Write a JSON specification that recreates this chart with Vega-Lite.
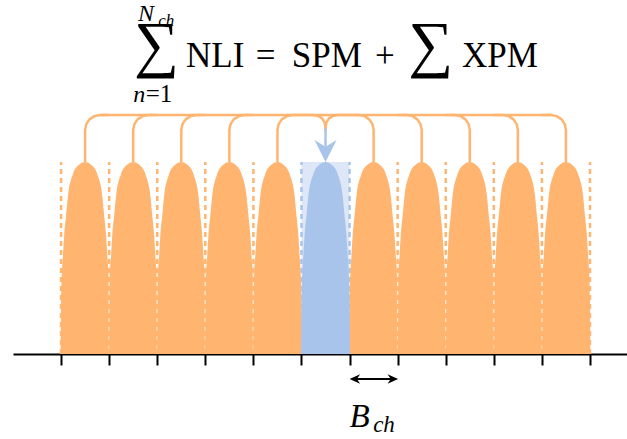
{
  "$schema": "https://vega.github.io/schema/vega-lite/v6.json",
  "width": 614,
  "height": 354,
  "autosize": "none",
  "padding": {"left": 13, "top": 0, "right": 0, "bottom": 85},
  "background": "white",
  "config": {"view": {"stroke": null}},
  "datasets": {
    "band": [{"x": 5, "x2": 6}],
    "edges": [
      {"x": 0, "kind": "wdm"}, {"x": 1, "kind": "wdm"}, {"x": 2, "kind": "wdm"}, {"x": 3, "kind": "wdm"}, {"x": 4, "kind": "wdm"},
      {"x": 5, "kind": "cut"}, {"x": 6, "kind": "cut"},
      {"x": 7, "kind": "wdm"}, {"x": 8, "kind": "wdm"}, {"x": 9, "kind": "wdm"}, {"x": 10, "kind": "wdm"}, {"x": 11, "kind": "wdm"}
    ],
    "lobes": [
      {"ch":0,"x":-0.01,"y":0},{"ch":0,"x":0,"y":0.28},{"ch":0,"x":0.015,"y":0.411},{"ch":0,"x":0.04,"y":0.516},{"ch":0,"x":0.065,"y":0.62},{"ch":0,"x":0.105,"y":0.724},{"ch":0,"x":0.145,"y":0.828},{"ch":0,"x":0.24,"y":0.932},{"ch":0,"x":0.365,"y":0.984},{"ch":0,"x":0.5,"y":1},{"ch":0,"x":0.635,"y":0.984},{"ch":0,"x":0.76,"y":0.932},{"ch":0,"x":0.855,"y":0.828},{"ch":0,"x":0.895,"y":0.724},{"ch":0,"x":0.935,"y":0.62},{"ch":0,"x":0.96,"y":0.516},{"ch":0,"x":0.985,"y":0.411},{"ch":0,"x":1,"y":0.28},{"ch":0,"x":1.01,"y":0},
      {"ch":1,"x":0.99,"y":0},{"ch":1,"x":1,"y":0.28},{"ch":1,"x":1.015,"y":0.411},{"ch":1,"x":1.04,"y":0.516},{"ch":1,"x":1.065,"y":0.62},{"ch":1,"x":1.105,"y":0.724},{"ch":1,"x":1.145,"y":0.828},{"ch":1,"x":1.24,"y":0.932},{"ch":1,"x":1.365,"y":0.984},{"ch":1,"x":1.5,"y":1},{"ch":1,"x":1.635,"y":0.984},{"ch":1,"x":1.76,"y":0.932},{"ch":1,"x":1.855,"y":0.828},{"ch":1,"x":1.895,"y":0.724},{"ch":1,"x":1.935,"y":0.62},{"ch":1,"x":1.96,"y":0.516},{"ch":1,"x":1.985,"y":0.411},{"ch":1,"x":2,"y":0.28},{"ch":1,"x":2.01,"y":0},
      {"ch":2,"x":1.99,"y":0},{"ch":2,"x":2,"y":0.28},{"ch":2,"x":2.015,"y":0.411},{"ch":2,"x":2.04,"y":0.516},{"ch":2,"x":2.065,"y":0.62},{"ch":2,"x":2.105,"y":0.724},{"ch":2,"x":2.145,"y":0.828},{"ch":2,"x":2.24,"y":0.932},{"ch":2,"x":2.365,"y":0.984},{"ch":2,"x":2.5,"y":1},{"ch":2,"x":2.635,"y":0.984},{"ch":2,"x":2.76,"y":0.932},{"ch":2,"x":2.855,"y":0.828},{"ch":2,"x":2.895,"y":0.724},{"ch":2,"x":2.935,"y":0.62},{"ch":2,"x":2.96,"y":0.516},{"ch":2,"x":2.985,"y":0.411},{"ch":2,"x":3,"y":0.28},{"ch":2,"x":3.01,"y":0},
      {"ch":3,"x":2.99,"y":0},{"ch":3,"x":3,"y":0.28},{"ch":3,"x":3.015,"y":0.411},{"ch":3,"x":3.04,"y":0.516},{"ch":3,"x":3.065,"y":0.62},{"ch":3,"x":3.105,"y":0.724},{"ch":3,"x":3.145,"y":0.828},{"ch":3,"x":3.24,"y":0.932},{"ch":3,"x":3.365,"y":0.984},{"ch":3,"x":3.5,"y":1},{"ch":3,"x":3.635,"y":0.984},{"ch":3,"x":3.76,"y":0.932},{"ch":3,"x":3.855,"y":0.828},{"ch":3,"x":3.895,"y":0.724},{"ch":3,"x":3.935,"y":0.62},{"ch":3,"x":3.96,"y":0.516},{"ch":3,"x":3.985,"y":0.411},{"ch":3,"x":4,"y":0.28},{"ch":3,"x":4.01,"y":0},
      {"ch":4,"x":3.99,"y":0},{"ch":4,"x":4,"y":0.28},{"ch":4,"x":4.015,"y":0.411},{"ch":4,"x":4.04,"y":0.516},{"ch":4,"x":4.065,"y":0.62},{"ch":4,"x":4.105,"y":0.724},{"ch":4,"x":4.145,"y":0.828},{"ch":4,"x":4.24,"y":0.932},{"ch":4,"x":4.365,"y":0.984},{"ch":4,"x":4.5,"y":1},{"ch":4,"x":4.635,"y":0.984},{"ch":4,"x":4.76,"y":0.932},{"ch":4,"x":4.855,"y":0.828},{"ch":4,"x":4.895,"y":0.724},{"ch":4,"x":4.935,"y":0.62},{"ch":4,"x":4.96,"y":0.516},{"ch":4,"x":4.985,"y":0.411},{"ch":4,"x":5,"y":0.28},{"ch":4,"x":5.01,"y":0},
      {"ch":5,"x":4.99,"y":0},{"ch":5,"x":5,"y":0.28},{"ch":5,"x":5.015,"y":0.411},{"ch":5,"x":5.04,"y":0.516},{"ch":5,"x":5.065,"y":0.62},{"ch":5,"x":5.105,"y":0.724},{"ch":5,"x":5.145,"y":0.828},{"ch":5,"x":5.24,"y":0.932},{"ch":5,"x":5.365,"y":0.984},{"ch":5,"x":5.5,"y":1},{"ch":5,"x":5.635,"y":0.984},{"ch":5,"x":5.76,"y":0.932},{"ch":5,"x":5.855,"y":0.828},{"ch":5,"x":5.895,"y":0.724},{"ch":5,"x":5.935,"y":0.62},{"ch":5,"x":5.96,"y":0.516},{"ch":5,"x":5.985,"y":0.411},{"ch":5,"x":6,"y":0.28},{"ch":5,"x":6.01,"y":0},
      {"ch":6,"x":5.99,"y":0},{"ch":6,"x":6,"y":0.28},{"ch":6,"x":6.015,"y":0.411},{"ch":6,"x":6.04,"y":0.516},{"ch":6,"x":6.065,"y":0.62},{"ch":6,"x":6.105,"y":0.724},{"ch":6,"x":6.145,"y":0.828},{"ch":6,"x":6.24,"y":0.932},{"ch":6,"x":6.365,"y":0.984},{"ch":6,"x":6.5,"y":1},{"ch":6,"x":6.635,"y":0.984},{"ch":6,"x":6.76,"y":0.932},{"ch":6,"x":6.855,"y":0.828},{"ch":6,"x":6.895,"y":0.724},{"ch":6,"x":6.935,"y":0.62},{"ch":6,"x":6.96,"y":0.516},{"ch":6,"x":6.985,"y":0.411},{"ch":6,"x":7,"y":0.28},{"ch":6,"x":7.01,"y":0},
      {"ch":7,"x":6.99,"y":0},{"ch":7,"x":7,"y":0.28},{"ch":7,"x":7.015,"y":0.411},{"ch":7,"x":7.04,"y":0.516},{"ch":7,"x":7.065,"y":0.62},{"ch":7,"x":7.105,"y":0.724},{"ch":7,"x":7.145,"y":0.828},{"ch":7,"x":7.24,"y":0.932},{"ch":7,"x":7.365,"y":0.984},{"ch":7,"x":7.5,"y":1},{"ch":7,"x":7.635,"y":0.984},{"ch":7,"x":7.76,"y":0.932},{"ch":7,"x":7.855,"y":0.828},{"ch":7,"x":7.895,"y":0.724},{"ch":7,"x":7.935,"y":0.62},{"ch":7,"x":7.96,"y":0.516},{"ch":7,"x":7.985,"y":0.411},{"ch":7,"x":8,"y":0.28},{"ch":7,"x":8.01,"y":0},
      {"ch":8,"x":7.99,"y":0},{"ch":8,"x":8,"y":0.28},{"ch":8,"x":8.015,"y":0.411},{"ch":8,"x":8.04,"y":0.516},{"ch":8,"x":8.065,"y":0.62},{"ch":8,"x":8.105,"y":0.724},{"ch":8,"x":8.145,"y":0.828},{"ch":8,"x":8.24,"y":0.932},{"ch":8,"x":8.365,"y":0.984},{"ch":8,"x":8.5,"y":1},{"ch":8,"x":8.635,"y":0.984},{"ch":8,"x":8.76,"y":0.932},{"ch":8,"x":8.855,"y":0.828},{"ch":8,"x":8.895,"y":0.724},{"ch":8,"x":8.935,"y":0.62},{"ch":8,"x":8.96,"y":0.516},{"ch":8,"x":8.985,"y":0.411},{"ch":8,"x":9,"y":0.28},{"ch":8,"x":9.01,"y":0},
      {"ch":9,"x":8.99,"y":0},{"ch":9,"x":9,"y":0.28},{"ch":9,"x":9.015,"y":0.411},{"ch":9,"x":9.04,"y":0.516},{"ch":9,"x":9.065,"y":0.62},{"ch":9,"x":9.105,"y":0.724},{"ch":9,"x":9.145,"y":0.828},{"ch":9,"x":9.24,"y":0.932},{"ch":9,"x":9.365,"y":0.984},{"ch":9,"x":9.5,"y":1},{"ch":9,"x":9.635,"y":0.984},{"ch":9,"x":9.76,"y":0.932},{"ch":9,"x":9.855,"y":0.828},{"ch":9,"x":9.895,"y":0.724},{"ch":9,"x":9.935,"y":0.62},{"ch":9,"x":9.96,"y":0.516},{"ch":9,"x":9.985,"y":0.411},{"ch":9,"x":10,"y":0.28},{"ch":9,"x":10.01,"y":0},
      {"ch":10,"x":9.99,"y":0},{"ch":10,"x":10,"y":0.28},{"ch":10,"x":10.015,"y":0.411},{"ch":10,"x":10.04,"y":0.516},{"ch":10,"x":10.065,"y":0.62},{"ch":10,"x":10.105,"y":0.724},{"ch":10,"x":10.145,"y":0.828},{"ch":10,"x":10.24,"y":0.932},{"ch":10,"x":10.365,"y":0.984},{"ch":10,"x":10.5,"y":1},{"ch":10,"x":10.635,"y":0.984},{"ch":10,"x":10.76,"y":0.932},{"ch":10,"x":10.855,"y":0.828},{"ch":10,"x":10.895,"y":0.724},{"ch":10,"x":10.935,"y":0.62},{"ch":10,"x":10.96,"y":0.516},{"ch":10,"x":10.985,"y":0.411},{"ch":10,"x":11,"y":0.28},{"ch":10,"x":11.01,"y":0}
    ],
    "links": [
      {"p":"a","i":0,"x":0.5,"y":1},{"p":"a","i":1,"x":0.5,"y":1.167},{"p":"a","i":2,"x":0.524,"y":1.197},{"p":"a","i":3,"x":0.591,"y":1.222},{"p":"a","i":4,"x":0.693,"y":1.239},{"p":"a","i":5,"x":0.812,"y":1.245},{"p":"a","i":6,"x":1.0,"y":1.245},
      {"p":"b","i":0,"x":1.5,"y":1},{"p":"b","i":1,"x":1.5,"y":1.167},{"p":"b","i":2,"x":1.524,"y":1.197},{"p":"b","i":3,"x":1.591,"y":1.222},{"p":"b","i":4,"x":1.693,"y":1.239},{"p":"b","i":5,"x":1.812,"y":1.245},{"p":"b","i":6,"x":2.0,"y":1.245},
      {"p":"c","i":0,"x":2.5,"y":1},{"p":"c","i":1,"x":2.5,"y":1.167},{"p":"c","i":2,"x":2.524,"y":1.197},{"p":"c","i":3,"x":2.591,"y":1.222},{"p":"c","i":4,"x":2.693,"y":1.239},{"p":"c","i":5,"x":2.812,"y":1.245},{"p":"c","i":6,"x":3.0,"y":1.245},
      {"p":"d","i":0,"x":3.5,"y":1},{"p":"d","i":1,"x":3.5,"y":1.167},{"p":"d","i":2,"x":3.524,"y":1.197},{"p":"d","i":3,"x":3.591,"y":1.222},{"p":"d","i":4,"x":3.693,"y":1.239},{"p":"d","i":5,"x":3.812,"y":1.245},{"p":"d","i":6,"x":4.0,"y":1.245},
      {"p":"e","i":0,"x":4.5,"y":1},{"p":"e","i":1,"x":4.5,"y":1.167},{"p":"e","i":2,"x":4.524,"y":1.197},{"p":"e","i":3,"x":4.591,"y":1.222},{"p":"e","i":4,"x":4.693,"y":1.239},{"p":"e","i":5,"x":4.812,"y":1.245},{"p":"e","i":6,"x":5.0,"y":1.245},
      {"p":"f","i":0,"x":6.5,"y":1},{"p":"f","i":1,"x":6.5,"y":1.167},{"p":"f","i":2,"x":6.476,"y":1.197},{"p":"f","i":3,"x":6.409,"y":1.222},{"p":"f","i":4,"x":6.307,"y":1.239},{"p":"f","i":5,"x":6.188,"y":1.245},{"p":"f","i":6,"x":6.0,"y":1.245},
      {"p":"g","i":0,"x":7.5,"y":1},{"p":"g","i":1,"x":7.5,"y":1.167},{"p":"g","i":2,"x":7.476,"y":1.197},{"p":"g","i":3,"x":7.409,"y":1.222},{"p":"g","i":4,"x":7.307,"y":1.239},{"p":"g","i":5,"x":7.188,"y":1.245},{"p":"g","i":6,"x":7.0,"y":1.245},
      {"p":"h","i":0,"x":8.5,"y":1},{"p":"h","i":1,"x":8.5,"y":1.167},{"p":"h","i":2,"x":8.476,"y":1.197},{"p":"h","i":3,"x":8.409,"y":1.222},{"p":"h","i":4,"x":8.307,"y":1.239},{"p":"h","i":5,"x":8.188,"y":1.245},{"p":"h","i":6,"x":8.0,"y":1.245},
      {"p":"j","i":0,"x":9.5,"y":1},{"p":"j","i":1,"x":9.5,"y":1.167},{"p":"j","i":2,"x":9.476,"y":1.197},{"p":"j","i":3,"x":9.409,"y":1.222},{"p":"j","i":4,"x":9.307,"y":1.239},{"p":"j","i":5,"x":9.188,"y":1.245},{"p":"j","i":6,"x":9.0,"y":1.245},
      {"p":"k","i":0,"x":10.5,"y":1},{"p":"k","i":1,"x":10.5,"y":1.167},{"p":"k","i":2,"x":10.476,"y":1.197},{"p":"k","i":3,"x":10.409,"y":1.222},{"p":"k","i":4,"x":10.307,"y":1.239},{"p":"k","i":5,"x":10.188,"y":1.245},{"p":"k","i":6,"x":10.0,"y":1.245},
      {"p":"l","i":0,"x":5.0,"y":1.245},{"p":"l","i":1,"x":5.25,"y":1.245},{"p":"l","i":2,"x":5.346,"y":1.240},{"p":"l","i":3,"x":5.427,"y":1.227},{"p":"l","i":4,"x":5.481,"y":1.206},{"p":"l","i":5,"x":5.5,"y":1.183},{"p":"l","i":6,"x":5.5,"y":1.165},
      {"p":"r","i":0,"x":6.0,"y":1.245},{"p":"r","i":1,"x":5.75,"y":1.245},{"p":"r","i":2,"x":5.654,"y":1.240},{"p":"r","i":3,"x":5.573,"y":1.227},{"p":"r","i":4,"x":5.519,"y":1.206},{"p":"r","i":5,"x":5.5,"y":1.183},{"p":"r","i":6,"x":5.5,"y":1.165}
    ],
    "bus": [{"x": 0.812, "x2": 10.188, "y": 1.245}],
    "shaft": [{"x": 5.5, "y": 1.175, "y2": 1.08}],
    "tip": [{"x": 5.5, "y": 1.057}],
    "span": [{"x": 6.15, "x2": 6.86, "y": -0.13}],
    "headL": [{"x": 6.11, "y": -0.13}],
    "headR": [{"x": 6.9, "y": -0.13}],
    "sigma": [{"t": "∑", "x": 1.985, "y": 1.505}, {"t": "∑", "x": 7.69, "y": 1.505}],
    "eqMain": [
      {"t": "NLI", "x": 2.6, "y": 1.495},
      {"t": "=", "x": 4.05, "y": 1.495},
      {"t": "SPM", "x": 4.8, "y": 1.495},
      {"t": "+", "x": 6.53, "y": 1.495},
      {"t": "XPM", "x": 8.34, "y": 1.495}
    ],
    "it22": [
      {"t": "N", "x": 1.6, "y": 1.735},
      {"t": "n", "x": 1.5, "y": 1.31}
    ],
    "itSubB": [{"t": "ch", "x": 6.49, "y": -0.406}],
    "it15": [{"t": "ch", "x": 2.02, "y": 1.71}],
    "rm22": [{"t": "=1", "x": 1.76, "y": 1.31}],
    "it32": [{"t": "B", "x": 6.0, "y": -0.38}]
  },
  "layer": [
    {
      "data": {"name": "band"},
      "mark": {"type": "rect", "color": "#dde7f7"},
      "encoding": {
        "x": {"field": "x", "type": "quantitative", "scale": {"domain": [-1, 11.77], "nice": false, "zero": false},
              "axis": {"values": [0,1,2,3,4,5,6,7,8,9,10,11], "labels": false, "grid": false, "title": null,
                       "domainColor": "black", "domainWidth": 2, "tickColor": "black", "tickWidth": 2, "tickSize": 11}},
        "x2": {"field": "x2"},
        "y": {"datum": 0, "type": "quantitative", "scale": {"domain": [0, 1.84375], "nice": false, "zero": false}, "axis": null},
        "y2": {"datum": 1}
      }
    },
    {
      "data": {"name": "edges"},
      "mark": {"type": "rule", "strokeDash": [5, 4], "strokeWidth": 2.5},
      "encoding": {
        "x": {"field": "x", "type": "quantitative"},
        "y": {"datum": 0, "type": "quantitative", "axis": null},
        "y2": {"datum": 1},
        "color": {"field": "kind", "type": "nominal", "scale": {"domain": ["wdm", "cut"], "range": ["#ffb570", "#a9c4ea"]}, "legend": null}
      }
    },
    {
      "data": {"name": "lobes"},
      "transform": [{"filter": "datum.ch !== 5"}],
      "mark": {"type": "area", "interpolate": "monotone", "color": "#ffb570"},
      "encoding": {
        "x": {"field": "x", "type": "quantitative"},
        "y": {"field": "y", "type": "quantitative", "axis": null},
        "detail": {"field": "ch", "type": "nominal"}
      }
    },
    {
      "data": {"name": "lobes"},
      "transform": [{"filter": "datum.ch === 5"}],
      "mark": {"type": "area", "interpolate": "monotone", "color": "#a9c4ea"},
      "encoding": {
        "x": {"field": "x", "type": "quantitative"},
        "y": {"field": "y", "type": "quantitative", "axis": null}
      }
    },
    {
      "data": {"name": "links"},
      "mark": {"type": "line", "interpolate": "linear", "color": "#ffb570", "strokeWidth": 2.5, "strokeJoin": "round"},
      "encoding": {
        "x": {"field": "x", "type": "quantitative"},
        "y": {"field": "y", "type": "quantitative", "axis": null},
        "detail": {"field": "p", "type": "nominal"},
        "order": {"field": "i", "type": "quantitative"}
      }
    },
    {
      "data": {"name": "bus"},
      "mark": {"type": "rule", "color": "#ffb570", "strokeWidth": 2.5},
      "encoding": {
        "x": {"field": "x", "type": "quantitative"},
        "x2": {"field": "x2"},
        "y": {"field": "y", "type": "quantitative", "axis": null}
      }
    },
    {
      "data": {"name": "shaft"},
      "mark": {"type": "rule", "color": "#a9c4ea", "strokeWidth": 2.5},
      "encoding": {
        "x": {"field": "x", "type": "quantitative"},
        "y": {"field": "y", "type": "quantitative", "axis": null},
        "y2": {"field": "y2"}
      }
    },
    {
      "data": {"name": "tip"},
      "mark": {"type": "point", "filled": true, "opacity": 1, "color": "#a9c4ea", "size": 484, "shape": "M0,1L-1,-1L0,-0.4L1,-1Z"},
      "encoding": {
        "x": {"field": "x", "type": "quantitative"},
        "y": {"field": "y", "type": "quantitative", "axis": null}
      }
    },
    {
      "data": {"name": "span"},
      "mark": {"type": "rule", "color": "black", "strokeWidth": 2},
      "encoding": {
        "x": {"field": "x", "type": "quantitative"},
        "x2": {"field": "x2"},
        "y": {"field": "y", "type": "quantitative", "axis": null}
      }
    },
    {
      "data": {"name": "headL"},
      "mark": {"type": "point", "filled": true, "opacity": 1, "color": "black", "size": 110, "shape": "M-1,0L1,-0.9L0.4,0L1,0.9Z"},
      "encoding": {
        "x": {"field": "x", "type": "quantitative"},
        "y": {"field": "y", "type": "quantitative", "axis": null}
      }
    },
    {
      "data": {"name": "headR"},
      "mark": {"type": "point", "filled": true, "opacity": 1, "color": "black", "size": 110, "shape": "M1,0L-1,-0.9L-0.4,0L-1,0.9Z"},
      "encoding": {
        "x": {"field": "x", "type": "quantitative"},
        "y": {"field": "y", "type": "quantitative", "axis": null}
      }
    },
    {
      "data": {"name": "sigma"},
      "mark": {"type": "text", "font": "Liberation Serif, DejaVu Serif, serif", "fontSize": 63, "align": "center", "baseline": "alphabetic", "color": "black"},
      "encoding": {
        "x": {"field": "x", "type": "quantitative"},
        "y": {"field": "y", "type": "quantitative", "axis": null},
        "text": {"field": "t"}
      }
    },
    {
      "data": {"name": "eqMain"},
      "mark": {"type": "text", "font": "Liberation Serif, DejaVu Serif, serif", "fontSize": 35, "align": "left", "baseline": "alphabetic", "color": "black"},
      "encoding": {
        "x": {"field": "x", "type": "quantitative"},
        "y": {"field": "y", "type": "quantitative", "axis": null},
        "text": {"field": "t"}
      }
    },
    {
      "data": {"name": "it22"},
      "mark": {"type": "text", "font": "Liberation Serif, DejaVu Serif, serif", "fontStyle": "italic", "fontSize": 24, "align": "left", "baseline": "alphabetic", "color": "black"},
      "encoding": {
        "x": {"field": "x", "type": "quantitative"},
        "y": {"field": "y", "type": "quantitative", "axis": null},
        "text": {"field": "t"}
      }
    },
    {
      "data": {"name": "itSubB"},
      "mark": {"type": "text", "font": "Liberation Serif, DejaVu Serif, serif", "fontStyle": "italic", "fontSize": 23, "align": "left", "baseline": "alphabetic", "color": "black"},
      "encoding": {
        "x": {"field": "x", "type": "quantitative"},
        "y": {"field": "y", "type": "quantitative", "axis": null},
        "text": {"field": "t"}
      }
    },
    {
      "data": {"name": "it15"},
      "mark": {"type": "text", "font": "Liberation Serif, DejaVu Serif, serif", "fontStyle": "italic", "fontSize": 17, "align": "left", "baseline": "alphabetic", "color": "black"},
      "encoding": {
        "x": {"field": "x", "type": "quantitative"},
        "y": {"field": "y", "type": "quantitative", "axis": null},
        "text": {"field": "t"}
      }
    },
    {
      "data": {"name": "rm22"},
      "mark": {"type": "text", "font": "Liberation Serif, DejaVu Serif, serif", "fontSize": 25, "align": "left", "baseline": "alphabetic", "color": "black"},
      "encoding": {
        "x": {"field": "x", "type": "quantitative"},
        "y": {"field": "y", "type": "quantitative", "axis": null},
        "text": {"field": "t"}
      }
    },
    {
      "data": {"name": "it32"},
      "mark": {"type": "text", "font": "Liberation Serif, DejaVu Serif, serif", "fontStyle": "italic", "fontSize": 33, "align": "left", "baseline": "alphabetic", "color": "black"},
      "encoding": {
        "x": {"field": "x", "type": "quantitative"},
        "y": {"field": "y", "type": "quantitative", "axis": null},
        "text": {"field": "t"}
      }
    }
  ]
}
